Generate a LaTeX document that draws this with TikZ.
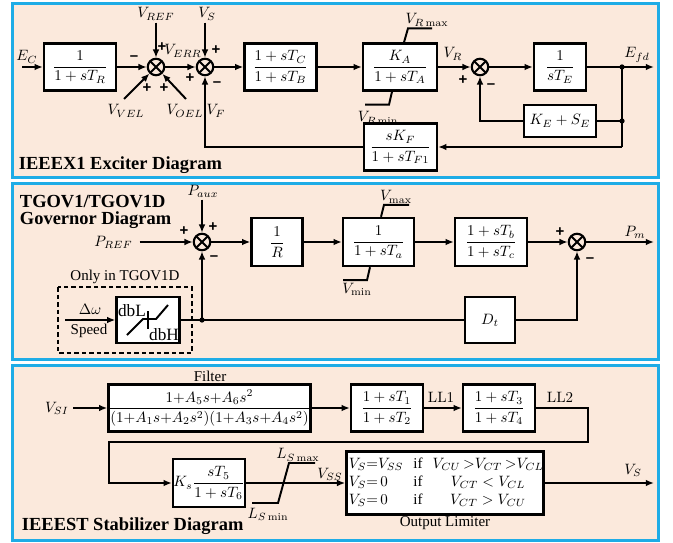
\documentclass[tikz,border=0pt]{standalone}
\usepackage{amsmath}
\usepackage{fontspec}
\newfontfamily\tms{Liberation Serif}
\newfontfamily\arl{Liberation Sans}
\usetikzlibrary{arrows.meta,calc}
\definecolor{frameblue}{RGB}{30,172,230}
\definecolor{peach}{RGB}{251,233,220}
\begin{document}
\begin{tikzpicture}[x=0.6667pt,y=-0.6667pt,
  line width=1.3pt, >={Latex[length=5.5pt,width=4.5pt]},
  blk/.style 2 args={draw,fill=white,line width=1.6pt,minimum width=#1*0.6667pt,minimum height=#2*0.6667pt,inner sep=0pt},
  sumj/.style={circle,draw,line width=1.4pt,minimum size=11pt,inner sep=0pt,
    path picture={\draw[line width=1.2pt]
      ([shift={(45:8pt)}]path picture bounding box.center) -- ([shift={(225:8pt)}]path picture bounding box.center)
      ([shift={(135:8pt)}]path picture bounding box.center) -- ([shift={(-45:8pt)}]path picture bounding box.center);}},
  lbl/.style={inner sep=1pt},
  sgn/.style={font=\arl\bfseries\fontsize{10}{12}\selectfont, inner sep=0pt},
  ttl/.style={font=\tms\bfseries\fontsize{12.3}{14}\selectfont, anchor=base west, inner sep=0pt},
  txt/.style={font=\tms, inner sep=0pt},
  dbtxt/.style={font=\tms\fontsize{11.5}{13}\selectfont, inner sep=0pt},
  panel/.style={draw=frameblue, fill=peach, line width=2pt},
  jdot/.style={circle, fill, inner sep=0pt, minimum size=3.5pt}
]
\useasboundingbox (0,0) rectangle (673,542);
\draw[panel] (12,4) rectangle (658,178);
\draw[panel] (12,184) rectangle (658,359);
\draw[panel] (12,365) rectangle (658,540);

% ---------- Panel 1: IEEEX1 ----------
\node[lbl] (ec) at (27,57) {$E_C$};
\coordinate (ecin) at (22,67);
\node[blk={72}{47}] (b1) at (80,67) {$\dfrac{1}{1+sT_R}$};
\node[sumj] (s1) at (156,67) {};
\node[sumj] (s2) at (205,67) {};
\node[blk={72}{47}] (b2) at (280.5,67) {$\dfrac{1+sT_C}{1+sT_B}$};
\node[blk={74}{47}] (b3) at (400,67) {$\dfrac{K_A}{1+sT_A}$};
\node[sumj] (s3) at (480,67) {};
\node[blk={52}{47}] (b4) at (560,67) {$\dfrac{1}{sT_E}$};
\coordinate (efd) at (654,67);
\coordinate (j1) at (622,67);
\coordinate (j2) at (622,121);
\coordinate (j3) at (622,147);
\node[blk={72}{32}] (b5) at (560,121) {$K_E+S_E$};
\node[blk={73}{47}] (b6) at (400.5,147) {$\dfrac{sK_F}{1+sT_{F1}}$};

\draw[->] (ecin) -- (b1.west);
\draw[->] (b1) -- (s1);
\draw[->] (s1) -- (s2);
\draw[->] (s2) -- (b2);
\draw[->] (b2) -- (b3);
\draw[->] (b3) -- (s3);
\draw[->] (s3) -- (b4);
\draw[->] (b4) -- (efd);
\node[lbl] (vref) at (156,14) {$V_{REF}$};
\draw[->] (vref) -- (s1);
\node[lbl] (vs) at (207,14) {$V_S$};
\draw[->] (vs.south -| s2) -- (s2.north);
\coordinate (vvel) at (124,99);
\coordinate (voel) at (186,99);
\draw[->] (vvel) -- (s1);
\draw[->] (voel) -- (s1);
\node[lbl] (vvell) at (126,111) {$V_{VEL}$};
\node[lbl] (voell) at (185,111) {$V_{OEL}$};
\node[lbl] (verr) at (183,51) {$V_{ERR}$};
\node[lbl] (vf) at (216,111) {$V_F$};
\node[sgn] (p1) at (134,58) {–};
\node[sgn] (p2) at (162,47) {+};
\node[sgn] (p3) at (147,88) {+};
\node[sgn] (p4) at (164,88) {+};
\node[sgn] (p5) at (190,78) {+};
\node[sgn] (p6) at (216,50) {+};
\node[sgn] (p7) at (217,84) {–};
\draw ($(b3.north)+(4,0)$) -- ++(4,-14) -- ++(24,0);
\draw ($(b3.south)+(-8,0)$) -- ++(-3,13) -- ++(-24,0);
\node[lbl] (vrmax) at (427,20) {$V_{R\max}$};
\node[lbl] (vrmin) at (378,118) {$V_{R\min}$};
\node[lbl] (vr) at (453,54) {$V_R$};
\node[sgn] (p8) at (463,80) {+};
\node[sgn] (p9) at (491,86) {–};
\node[lbl] (efdl) at (637,55) {$E_{fd}$};
\draw (j1) -- (j3);
\draw (j2) -- (b5.east);
\draw[->] (b5.west) -| (s3.south);
\draw[->] (j3) -- (b6.east);
\draw[->] (b6.west) -| (s2.south);
\node[jdot] (d1) at (j1) {};
\node[jdot] (d2) at (j2) {};
\node[ttl] (t1) at (18,170) {IEEEX1 Exciter Diagram};

% ---------- Panel 2: TGOV1 ----------
\node[ttl] (t2a) at (19,207) {TGOV1/TGOV1D};
\node[ttl] (t2b) at (19,224) {Governor Diagram};
\node[sumj] (s4) at (202,242) {};
\node[lbl] (paux) at (203,191) {$P_{aux}$};
\draw[->] (paux.south -| s4) -- (s4.north);
\node[lbl,anchor=east] (pref) at (135,242) {$P_{REF}$};
\draw[->] ([xshift=3pt]pref.east) -- (s4.west);
\node[blk={51}{48}] (b7) at (277,242) {$\dfrac{1}{R}$};
\node[blk={71}{48}] (b8) at (378.5,242) {$\dfrac{1}{1+sT_a}$};
\node[blk={72}{48}] (b9) at (491,242) {$\dfrac{1+sT_b}{1+sT_c}$};
\node[sumj] (s5) at (577,242) {};
\coordinate (pm) at (654,242);
\draw[->] (s4) -- (b7);
\draw[->] (b7) -- (b8);
\draw[->] (b8) -- (b9);
\draw[->] (b9) -- (s5);
\draw[->] (s5) -- (pm);
\node[lbl] (pml) at (635,232) {$P_m$};
\draw ($(b8.north)+(2.5,0)$) -- ++(3,-12) -- ++(25,0);
\draw ($(b8.south)+(-8.5,0)$) -- ++(-3,13) -- ++(-24,0);
\node[lbl] (vmax) at (396,197) {$V_{\max}$};
\node[lbl] (vmin) at (357,289) {$V_{\min}$};
\node[sgn] (q1) at (184,231) {+};
\node[sgn] (q2) at (213,227) {+};
\node[sgn] (q3) at (214,258) {–};
\node[sgn] (q4) at (560,232) {+};
\node[sgn] (q5) at (590,260) {–};
\node[blk={50}{46}] (b10) at (490,320) {$D_t$};
\draw[dash pattern=on 3pt off 2pt, line width=1.4pt] (58,287) rectangle (192,353);
\node[txt] (only) at (125,277) {Only in TGOV1D};
\node[blk={63}{46}] (b11) at (148,320) {};
\node[dbtxt] (dbl) at (132,311) {dbL};
\node[dbtxt] (dbh) at (164,335) {dbH};
\draw (127,335) -- (143,319) -- (156,319) -- (168,305);
\draw (148,311) -- (148,329);
\node[lbl] (dw) at (90,309) {$\Delta\omega$};
\node[txt] (spd) at (89,331) {Speed};
\coordinate (spin) at (65,320);
\draw[->] (spin) -- (b11.west);
\coordinate (j4) at (202,320);
\draw (b11.east) -- (b10.west);
\draw[->] (j4) -- (s4.south);
\node[jdot] (d4) at (j4) {};
\draw[->] (b10.east) -| (s5.south);

% ---------- Panel 3: IEEEST ----------
\node[txt] (filt) at (210,376) {Filter};
\node[blk={201}{47}] (b12) at (209.5,408) {$\dfrac{1{+}A_5s{+}A_6s^2}{(1{+}A_1s{+}A_2s^2)(1{+}A_3s{+}A_4s^2)}$};
\node[lbl] (vsi) at (57,408) {$V_{SI}$};
\coordinate (vsiin) at (73,408);
\draw[->] (vsiin) -- (b12.west);
\node[blk={72}{47}] (b13) at (387,408) {$\dfrac{1+sT_1}{1+sT_2}$};
\node[blk={72}{47}] (b14) at (499,408) {$\dfrac{1+sT_3}{1+sT_4}$};
\draw[->] (b12) -- (b13);
\draw[->] (b13) -- (b14);
\node[lbl] (ll1) at (441,397) {LL1};
\node[lbl] (ll2) at (560,397) {LL2};
\node[blk={72}{48}] (b15) at (209,483) {$K_s\dfrac{sT_5}{1+sT_6}$};
\coordinate (r1) at (588,442);
\coordinate (r2) at (109,442);
\draw[->] (b14.east) -| (r1) -- (r2) |- (b15.west);
\node[blk={186}{63}] (b16) at (445,483) {\renewcommand{\arraystretch}{1.0}%
  \begin{tabular}{@{\,}l@{\ \ }l@{\ \ }c@{}}
  $V_S{=}V_{SS}$ & {\tms if} & $V_{CU}\,{>}V_{CT}\,{>}V_{CL}$\\
  $V_S{=}\,0$ & {\tms if} & $V_{CT}<V_{CL}$\\
  $V_S{=}\,0$ & {\tms if} & $V_{CT}>V_{CU}$
  \end{tabular}};
\draw[->] (b15) -- (b16);
\draw (252,503) -- (278,503) -- (289,463) -- (315,463);
\node[lbl] (lsmax) at (298,455) {$L_{S\max}$};
\node[lbl] (lsmin) at (268,514) {$L_{S\min}$};
\node[lbl] (vss) at (330,474) {$V_{SS}$};
\node[txt] (olim) at (445,523) {Output Limiter};
\coordinate (vsout) at (654,483);
\draw[->] (b16) -- (vsout);
\node[lbl] (vsl) at (633,470) {$V_S$};
\node[ttl] (t3) at (21,530) {IEEEST Stabilizer Diagram};
\end{tikzpicture}
\end{document}
